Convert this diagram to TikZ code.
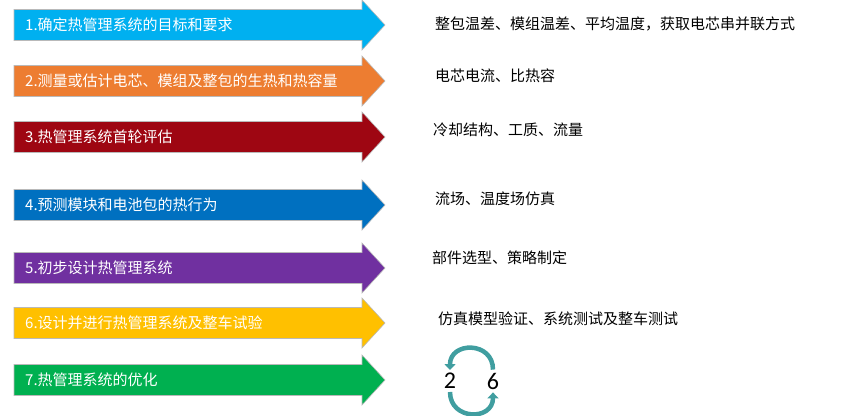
\documentclass[tikz,border=0pt]{standalone}
\usepackage{fontspec}
\newfontfamily\cjk{Noto Sans CJK SC}
\newfontfamily\numfont{Carlito}
\usetikzlibrary{arrows.meta}
\definecolor{stepone}{RGB}{0,176,240}
\definecolor{steptwo}{RGB}{237,125,49}
\definecolor{stepthree}{RGB}{158,6,18}
\definecolor{stepfour}{RGB}{0,112,192}
\definecolor{stepfive}{RGB}{112,48,160}
\definecolor{stepsix}{RGB}{255,192,0}
\definecolor{stepseven}{RGB}{0,176,80}
\definecolor{cyclecol}{RGB}{64,158,160}
\tikzset{
  stagearrow/.style={draw=gray!55, line width=0.6pt},
  stagelabel/.style={anchor=west, inner sep=0pt, text=white, font=\cjk\fontsize{15}{18}\selectfont},
  notelabel/.style={anchor=west, inner sep=0pt, text=black, font=\cjk\fontsize{15}{18}\selectfont},
  cyclenum/.style={inner sep=3pt, font=\numfont\fontsize{24}{26}\selectfont},
  cyclearc/.style={draw=cyclecol, line width=4.5pt, -{Triangle[length=6pt,width=11pt]}}
}
\begin{document}
\begin{tikzpicture}[x=1pt, y=-1pt]
\useasboundingbox (0,0) rectangle (845,415);

\foreach \n/\c/\col/\txt in {1/25/stepone/{1.确定热管理系统的目标和要求},
  2/81/steptwo/{2.测量或估计电芯、模组及整包的生热和热容量},
  3/137/stepthree/{3.热管理系统首轮评估},
  4/205/stepfour/{4.预测模块和电池包的热行为},
  5/268/stepfive/{5.初步设计热管理系统},
  6/323/stepsix/{6.设计并进行热管理系统及整车试验},
  7/380/stepseven/{7.热管理系统的优化}}{
\draw [stagearrow, fill=\col] (14,\c-15.5) -- (362,\c-15.5) -- (362,\c-25) -- (385,\c) -- (362,\c+25) -- (362,\c+15.5) -- (14,\c+15.5) -- cycle;
\node [stagelabel] (stage\n) at (25,\c) {\txt};
}

\foreach \n/\x/\y/\txt in {1/435/24/{整包温差、模组温差、平均温度，获取电芯串并联方式},
  2/435/76/{电芯电流、比热容},
  3/433/130/{冷却结构、工质、流量},
  4/435/199/{流场、温度场仿真},
  5/432/258/{部件选型、策略制定},
  6/438/319/{仿真模型验证、系统测试及整车测试}}{
\node [notelabel] (note\n) at (\x,\y) {\txt};
}

\node [cyclenum] (two) at (450,381) {2};
\node [cyclenum] (six) at (493,381) {6};
\draw [cyclearc] (six.north) to [out=90, in=90, looseness=1.7] (two.north);
\draw [cyclearc] (two.south) to [out=-90, in=-90, looseness=1.7] (six.south);
\end{tikzpicture}
\end{document}
